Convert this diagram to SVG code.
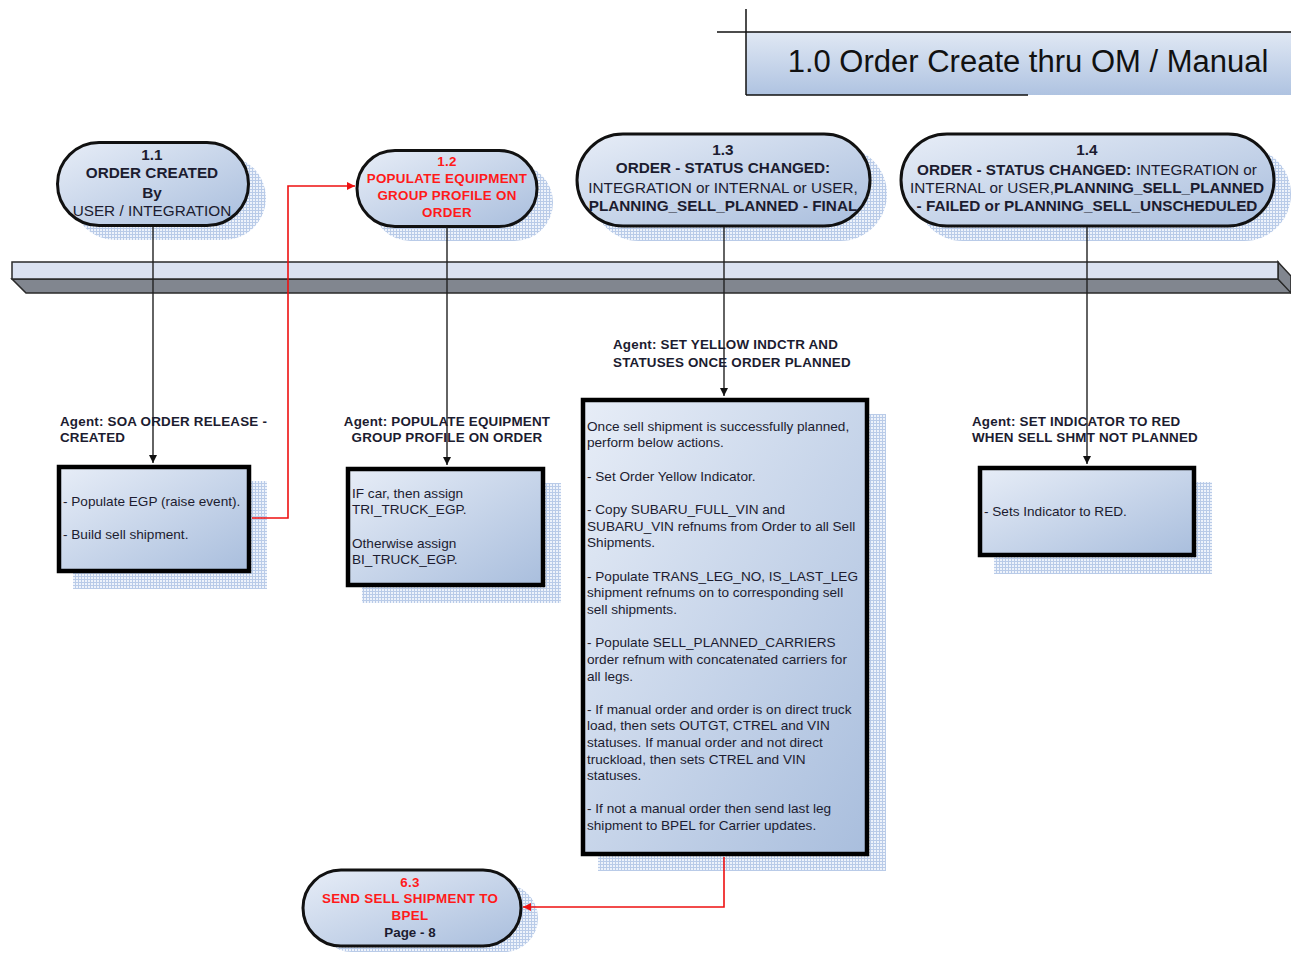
<svg xmlns="http://www.w3.org/2000/svg" width="1291" height="953" viewBox="0 0 1291 953">
<defs>
<linearGradient id="gFill" x1="0" y1="0" x2="1" y2="1">
<stop offset="0" stop-color="#e7edf7"/>
<stop offset="1" stop-color="#a9bedd"/>
</linearGradient>
<linearGradient id="gTitle" x1="0" y1="0" x2="0" y2="1">
<stop offset="0" stop-color="#e0e8f4"/>
<stop offset="1" stop-color="#afc3e1"/>
</linearGradient>
<pattern id="hatch" x="0" y="0" width="3" height="3" patternUnits="userSpaceOnUse">
<rect width="3" height="3" fill="#b9cbe8"/>
<rect x="1" y="1" width="2" height="2" fill="#eef3fb"/>
</pattern>
<marker id="arrK" viewBox="0 0 8 8" refX="8" refY="4" markerWidth="8" markerHeight="8" markerUnits="userSpaceOnUse" orient="auto">
<path d="M0,0 L8,4 L0,8 z" fill="#111"/>
</marker>
<marker id="arrR" viewBox="0 0 8 8" refX="8" refY="4" markerWidth="8" markerHeight="8" markerUnits="userSpaceOnUse" orient="auto">
<path d="M0,0 L8,4 L0,8 z" fill="#ee1111"/>
</marker>
</defs>
<style>
.shadow{fill:url(#hatch);stroke:none}
.pill{fill:url(#gFill);stroke:#111;stroke-width:3}
.box{fill:url(#gFill);stroke:#000;stroke-width:4.5}
.pt{font-family:"Liberation Sans",Arial,sans-serif;font-size:15.3px;fill:#1c1c30;text-anchor:middle}
.b{font-weight:bold}
.red{font-family:"Liberation Sans",Arial,sans-serif;font-size:13.4px;font-weight:bold;fill:#ff1a1a;text-anchor:middle;letter-spacing:0.3px}
.bt{font-family:"Liberation Sans",Arial,sans-serif;font-size:13.6px;fill:#1c1c30}
.ag{font-family:"Liberation Sans",Arial,sans-serif;font-size:13.4px;font-weight:bold;fill:#1c1c30;letter-spacing:0.2px}
.line{fill:none;stroke:#222;stroke-width:1.4}
.rline{fill:none;stroke:#ee1111;stroke-width:1.6}
</style>

<g id="title">
<rect x="746" y="32" width="545" height="63" fill="url(#gTitle)"/>
<line x1="717" y1="32" x2="1291" y2="32" stroke="#111" stroke-width="1.5"/>
<line x1="746" y1="9" x2="746" y2="95" stroke="#111" stroke-width="1.5"/>
<line x1="746" y1="95" x2="1028" y2="95" stroke="#111" stroke-width="1.5"/>
<text x="1028" y="72" font-family="'Liberation Sans',Arial,sans-serif" font-size="31" fill="#111" text-anchor="middle">1.0 Order Create thru OM / Manual</text>
</g>

<g id="bar">
<polygon points="12,279 1278,279 1291,292 1291,293 26,293" fill="#81868f" stroke="#2a2a2a" stroke-width="1.5"/>
<polygon points="1278,262 1291,276 1291,293 1278,279" fill="#81868f" stroke="#2a2a2a" stroke-width="1.5"/>
<rect x="12" y="262" width="1266" height="17" fill="#dbe2f1" stroke="#2a2a2a" stroke-width="1.5"/>
</g>

<g id="node-1-1">
<rect class="shadow" x="73" y="156" width="193" height="84" rx="42"/>
<rect class="pill" x="57.5" y="142.5" width="191" height="83" rx="41.5"/>
<text class="pt b" x="152" y="160">1.1</text>
<text class="pt b" x="152" y="178">ORDER CREATED</text>
<text class="pt b" x="152" y="198">By</text>
<text class="pt" x="152" y="216">USER / INTEGRATION</text>
</g>

<g id="node-1-2">
<rect class="shadow" x="372" y="164" width="181" height="77" rx="38.5"/>
<rect class="pill" x="357" y="150.5" width="180" height="76" rx="38"/>
<text class="red" x="447" y="166">1.2</text>
<text class="red" x="447" y="183">POPULATE EQUIPMENT</text>
<text class="red" x="447" y="200">GROUP PROFILE ON</text>
<text class="red" x="447" y="217">ORDER</text>
</g>

<g id="node-1-3">
<rect class="shadow" x="592" y="147" width="295" height="94" rx="47"/>
<rect class="pill" x="577" y="134" width="293" height="92" rx="46"/>
<text class="pt b" x="723" y="155">1.3</text>
<text class="pt b" x="723" y="173">ORDER - STATUS CHANGED:</text>
<text class="pt" x="723" y="193">INTEGRATION or INTERNAL or USER,</text>
<text class="pt b" x="723" y="211">PLANNING_SELL_PLANNED - FINAL</text>
</g>

<g id="node-1-4">
<rect class="shadow" x="916" y="147" width="375" height="94" rx="47"/>
<rect class="pill" x="901" y="134" width="373" height="92" rx="46"/>
<text class="pt b" x="1087" y="155">1.4</text>
<text class="pt" x="1087" y="175"><tspan class="b">ORDER - STATUS CHANGED: </tspan>INTEGRATION or</text>
<text class="pt" x="1087" y="193">INTERNAL or USER,<tspan class="b">PLANNING_SELL_PLANNED</tspan></text>
<text class="pt b" x="1087" y="211">- FAILED or PLANNING_SELL_UNSCHEDULED</text>
</g>

<g id="box-1-1">
<rect class="shadow" x="73" y="481" width="194" height="108"/>
<rect class="box" x="59" y="467" width="190" height="104"/>
<text class="bt" x="63" y="506">- Populate EGP (raise event).</text>
<text class="bt" x="63" y="539">- Build sell shipment.</text>
</g>

<g id="box-1-2">
<rect class="shadow" x="362" y="483" width="199" height="120"/>
<rect class="box" x="348" y="469" width="195" height="116"/>
<text class="bt" x="352" y="498">IF car, then assign</text>
<text class="bt" x="352" y="514">TRI_TRUCK_EGP.</text>
<text class="bt" x="352" y="548">Otherwise assign</text>
<text class="bt" x="352" y="564">BI_TRUCK_EGP.</text>
</g>

<g id="box-1-3">
<rect class="shadow" x="598" y="414" width="288" height="457"/>
<rect class="box" x="583" y="400" width="284" height="454"/>
<text class="bt" x="587" y="431">Once sell shipment is successfully planned,</text>
<text class="bt" x="587" y="447">perform below actions.</text>
<text class="bt" x="587" y="481">- Set Order Yellow Indicator.</text>
<text class="bt" x="587" y="514">- Copy SUBARU_FULL_VIN and</text>
<text class="bt" x="587" y="531">SUBARU_VIN refnums from Order to all Sell</text>
<text class="bt" x="587" y="547">Shipments.</text>
<text class="bt" x="587" y="581">- Populate TRANS_LEG_NO, IS_LAST_LEG</text>
<text class="bt" x="587" y="597">shipment refnums on to corresponding sell</text>
<text class="bt" x="587" y="614">sell shipments.</text>
<text class="bt" x="587" y="647">- Populate SELL_PLANNED_CARRIERS</text>
<text class="bt" x="587" y="664">order refnum with concatenated carriers for</text>
<text class="bt" x="587" y="681">all legs.</text>
<text class="bt" x="587" y="714">- If manual order and order is on direct truck</text>
<text class="bt" x="587" y="730">load, then sets OUTGT, CTREL and VIN</text>
<text class="bt" x="587" y="747">statuses. If manual order and not direct</text>
<text class="bt" x="587" y="764">truckload, then sets CTREL and VIN</text>
<text class="bt" x="587" y="780">statuses.</text>
<text class="bt" x="587" y="813">- If not a manual order then send last leg</text>
<text class="bt" x="587" y="830">shipment to BPEL for Carrier updates.</text>
</g>

<g id="box-1-4">
<rect class="shadow" x="994" y="482" width="218" height="92"/>
<rect class="box" x="980" y="468" width="214" height="87"/>
<text class="bt" x="984" y="516">- Sets Indicator to RED.</text>
</g>

<g id="node-6-3">
<rect class="shadow" x="318" y="884" width="220" height="68" rx="34"/>
<rect class="pill" x="303" y="870" width="218" height="76" rx="38"/>
<text class="red" x="410" y="887">6.3</text>
<text class="red" x="410" y="903">SEND SELL SHIPMENT TO</text>
<text class="red" x="410" y="920">BPEL</text>
<text class="pt b" x="410" y="937" style="font-size:13.4px">Page - 8</text>
</g>

<g id="connectors">
<path class="line" d="M153,227 V463" marker-end="url(#arrK)"/>
<path class="line" d="M447,227 V465" marker-end="url(#arrK)"/>
<path class="line" d="M724,227 V396" marker-end="url(#arrK)"/>
<path class="line" d="M1087,227 V464" marker-end="url(#arrK)"/>
<path class="rline" d="M252,518 H288 V186 H355" marker-end="url(#arrR)"/>
<path class="rline" d="M724,857 V907 H523" marker-end="url(#arrR)"/>
<text class="ag" x="60" y="426">Agent: SOA ORDER RELEASE -</text>
<text class="ag" x="60" y="442">CREATED</text>
<text class="ag" x="447" y="426" text-anchor="middle">Agent: POPULATE EQUIPMENT</text>
<text class="ag" x="447" y="442" text-anchor="middle">GROUP PROFILE ON ORDER</text>
<text class="ag" x="613" y="349">Agent: SET YELLOW INDCTR AND</text>
<text class="ag" x="613" y="367">STATUSES ONCE ORDER PLANNED</text>
<text class="ag" x="972" y="426">Agent: SET INDICATOR TO RED</text>
<text class="ag" x="972" y="442">WHEN SELL SHMT NOT PLANNED</text>
</g>
</svg>
